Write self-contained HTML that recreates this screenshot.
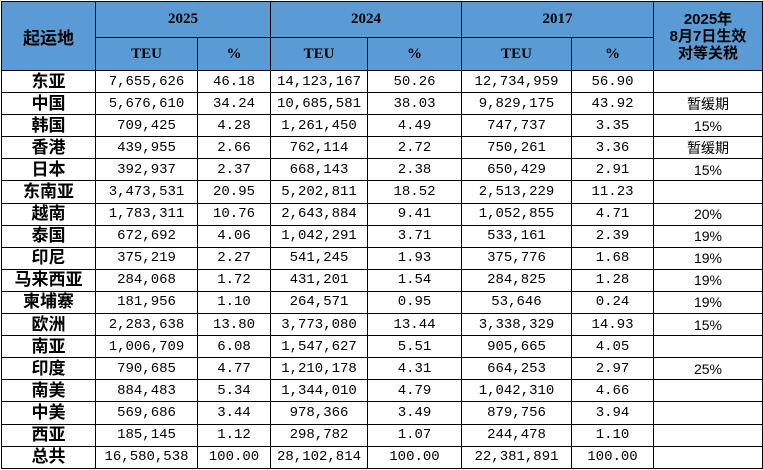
<!DOCTYPE html>
<html><head><meta charset="utf-8"><style>
html,body{margin:0;padding:0;background:#fff;width:763px;height:470px;overflow:hidden}
table{position:absolute;left:1px;top:1px;border-collapse:collapse;table-layout:fixed;width:761px}
td,th{border:1.5px solid #000;padding:0;text-align:center;white-space:nowrap;overflow:hidden}
th{background:#5B9BD5;font-family:"Liberation Serif","Noto Serif CJK SC",serif;font-weight:bold;font-size:15px;color:#000}
tbody tr{height:22.1px}
td{font-family:"Liberation Mono","Noto Sans CJK SC",monospace;font-size:14px;line-height:20px}
td.r{font-family:"Liberation Sans","Noto Sans CJK SC",sans-serif;font-weight:bold;font-size:17px}
td.t{font-family:"Liberation Sans","Noto Sans CJK SC",sans-serif;font-size:14px}
th.tariff{font-family:"Liberation Sans","Noto Sans CJK SC",sans-serif;font-size:15px;line-height:17px}
</style></head><body>
<table>
<colgroup><col style="width:94px"><col style="width:102px"><col style="width:73px"><col style="width:97px"><col style="width:94px"><col style="width:110px"><col style="width:82px"><col style="width:109px"></colgroup>
<thead>
<tr style="height:36px">
<th rowspan="2" style="font-family:'Liberation Sans','Noto Sans CJK SC',sans-serif;font-size:17px">起运地</th>
<th colspan="2">2025</th>
<th colspan="2">2024</th>
<th colspan="2">2017</th>
<th rowspan="2" class="tariff">2025年<br>8月7日生效<br>对等关税</th>
</tr>
<tr style="height:33px">
<th>TEU</th><th>%</th>
<th>TEU</th><th>%</th>
<th>TEU</th><th>%</th>
</tr>
</thead>
<tbody id="tb"></tbody>
</table>
<script>
const regions=["东亚","中国","韩国","香港","日本","东南亚","越南","泰国","印尼","马来西亚","柬埔寨","欧洲","南亚","印度","南美","中美","西亚","总共"];
const teu2025=["7,655,626","5,676,610","709,425","439,955","392,937","3,473,531","1,783,311","672,692","375,219","284,068","181,956","2,283,638","1,006,709","790,685","884,483","569,686","185,145","16,580,538"];
const pct2025=["46.18","34.24","4.28","2.66","2.37","20.95","10.76","4.06","2.27","1.72","1.10","13.80","6.08","4.77","5.34","3.44","1.12","100.00"];
const teu2024=["14,123,167","10,685,581","1,261,450","762,114","668,143","5,202,811","2,643,884","1,042,291","541,245","431,201","264,571","3,773,080","1,547,627","1,210,178","1,344,010","978,366","298,782","28,102,814"];
const pct2024=["50.26","38.03","4.49","2.72","2.38","18.52","9.41","3.71","1.93","1.54","0.95","13.44","5.51","4.31","4.79","3.49","1.07","100.00"];
const teu2017=["12,734,959","9,829,175","747,737","750,261","650,429","2,513,229","1,052,855","533,161","375,776","284,825","53,646","3,338,329","905,665","664,253","1,042,310","879,756","244,478","22,381,891"];
const pct2017=["56.90","43.92","3.35","3.36","2.91","11.23","4.71","2.39","1.68","1.28","0.24","14.93","4.05","2.97","4.66","3.94","1.10","100.00"];
const tariff=["","暂缓期","15%","暂缓期","15%","","20%","19%","19%","19%","19%","15%","","25%","","","",""];
const tb=document.getElementById('tb');
for(let i=0;i<regions.length;i++){
  const tr=document.createElement('tr');
  
  
  const vals=[regions[i],teu2025[i],pct2025[i],teu2024[i],pct2024[i],teu2017[i],pct2017[i],tariff[i]];
  vals.forEach((v,j)=>{
    const td=document.createElement('td');
    td.textContent=v;
    if(j===0)td.className='r';
    if(j===7)td.className='t';
    
    
    tr.appendChild(td);
  });
  tb.appendChild(tr);
}
</script>
</body></html>
